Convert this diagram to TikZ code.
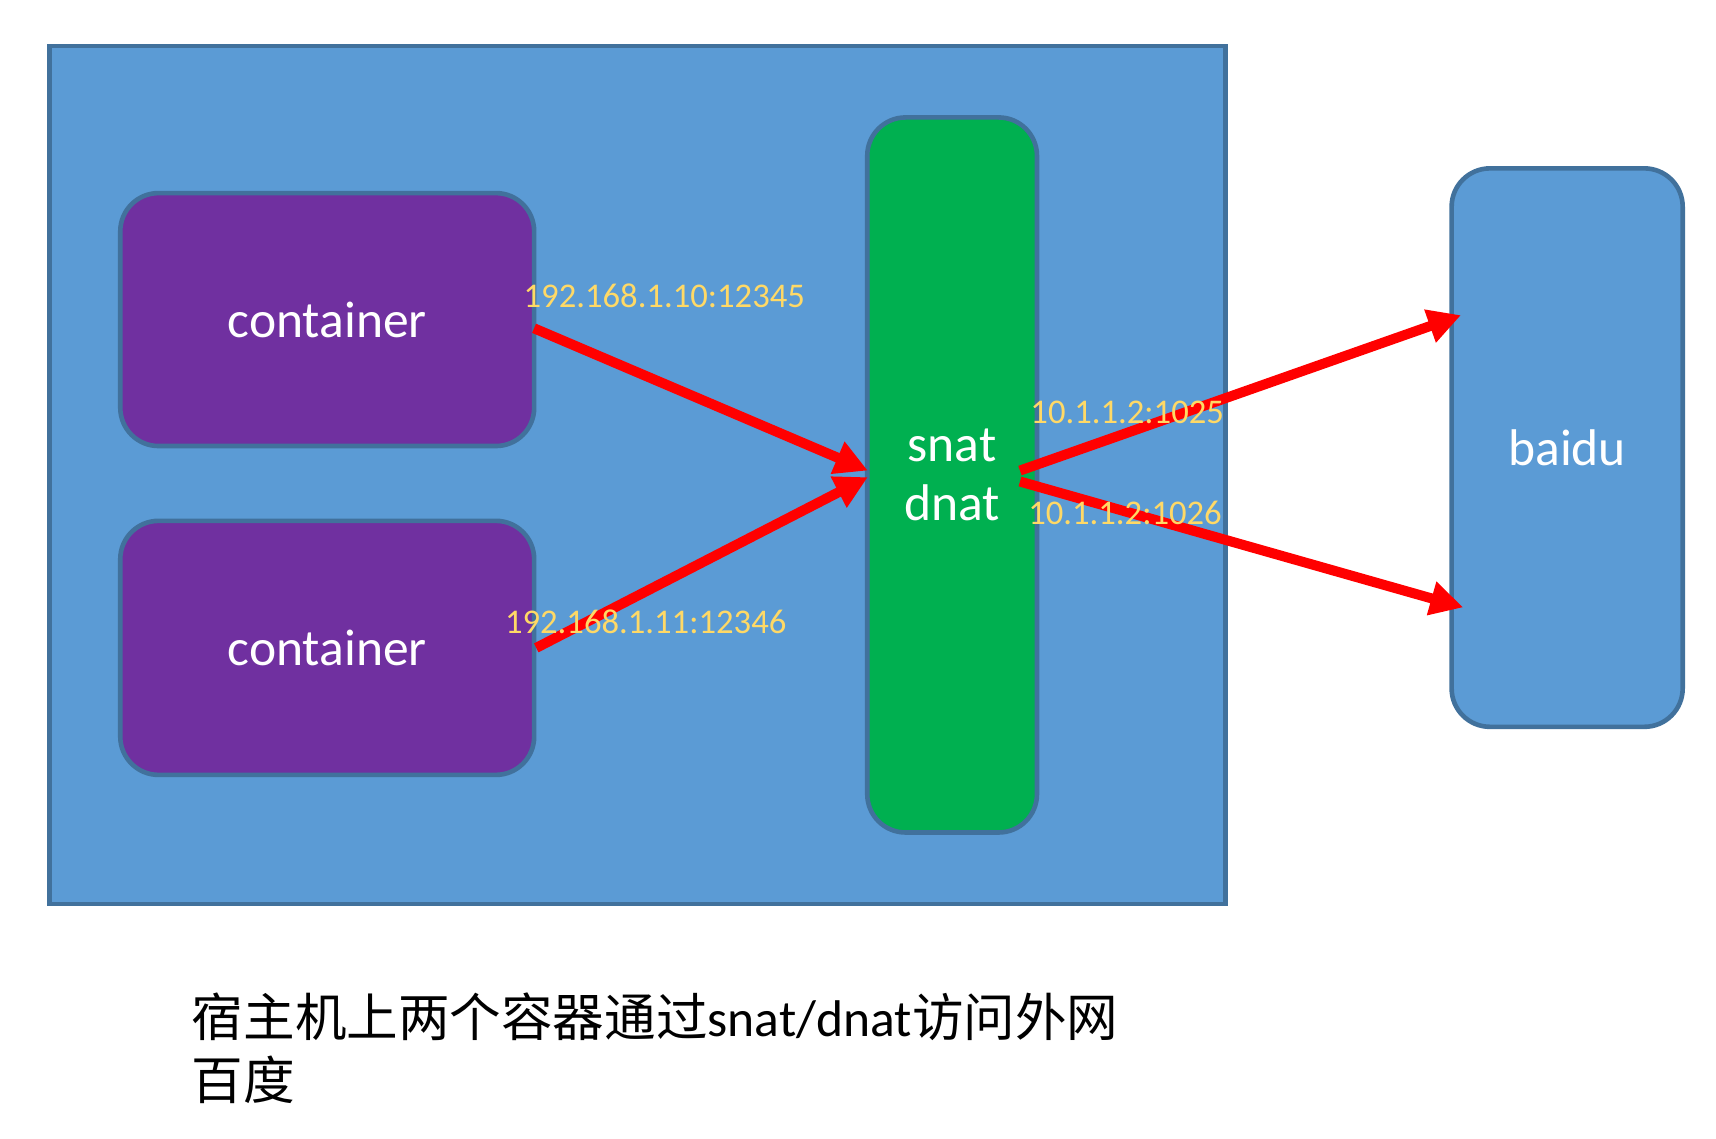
\documentclass[tikz,border=0pt]{standalone}
\usepackage{fontspec}
\setmainfont{Carlito}
\newfontfamily\cjk{Noto Sans CJK SC}
\usetikzlibrary{arrows.meta}
\definecolor{bgblue}{HTML}{5B9BD5}
\definecolor{edgeblue}{HTML}{41719C}
\definecolor{purp}{HTML}{7030A0}
\definecolor{grn}{HTML}{00B050}
\definecolor{lbl}{HTML}{FFD966}
\tikzset{
 box/.style={draw=edgeblue,line width=1.2pt,rounded corners=0.35cm,text=white,font=\fontsize{13.4}{16}\selectfont},
 redarrow/.style={draw=red,line width=2.6pt,-{Triangle[length=0.3cm,width=0.3cm]}},
 ip/.style={text=lbl,font=\fontsize{9}{11}\selectfont}
}
\begin{document}
\begin{tikzpicture}[x=0.01cm,y=-0.01cm]
\useasboundingbox[fill=white] (0,0) rectangle (1568,1040);
\fill[bgblue,draw=edgeblue,line width=1.2pt] (45,42) rectangle (1120,826);
\node[box,fill=purp,minimum width=3.78cm,minimum height=2.31cm] (c1) at (299,292) {container};
\node[box,fill=purp,minimum width=3.78cm,minimum height=2.32cm] (c2) at (299,592) {container};
\node[box,fill=grn,minimum width=1.55cm,minimum height=6.53cm,align=center,font=\fontsize{13.4}{15.5}\selectfont] (nat) at (870,434) {snat\\dnat};
\node[box,fill=bgblue,minimum width=2.11cm,minimum height=5.1cm] (baidu) at (1432,409) {baidu};
\coordinate (a1) at (488,300);
\coordinate (a2) at (490,592);
\coordinate (n1) at (793,430);
\coordinate (n2) at (793,436);
\coordinate (o1) at (932,430);
\coordinate (o2) at (932,440);
\coordinate (b1) at (1335,288);
\coordinate (b2) at (1337,555);
\draw[redarrow] (a1) -- (n1);
\draw[redarrow] (a2) -- (n2);
\draw[redarrow] (o1) -- (b1);
\draw[redarrow] (o2) -- (b2);
\node[ip] (l1) at (607,270) {192.168.1.10:12345};
\node[ip] (l2) at (590,568) {192.168.1.11:12346};
\node[ip] (l3) at (1030,377) {10.1.1.2:1025};
\node[ip] (l4) at (1028,469) {10.1.1.2:1026};
\node[anchor=north west,align=left,font=\fontsize{13.4}{16.4}\selectfont] (cap) at (163,895) {{\cjk 宿主机上两个容器通过}snat/dnat{\cjk 访问外网}\\{\cjk 百度}};
\end{tikzpicture}
\end{document}
